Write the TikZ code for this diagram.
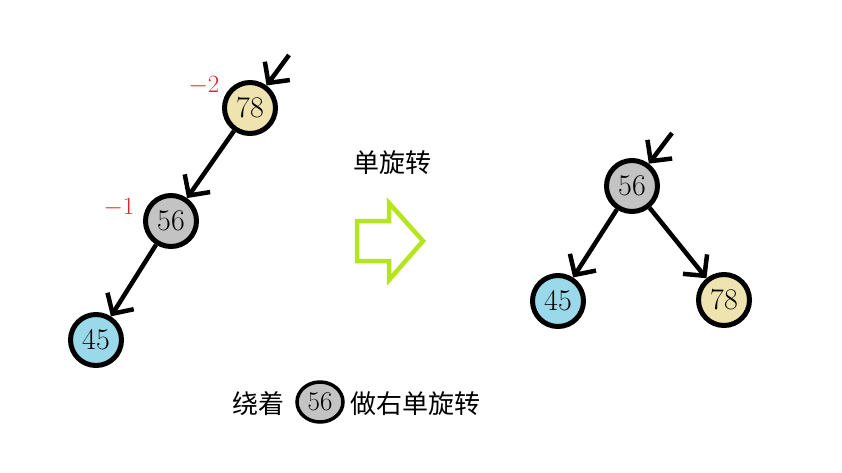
\documentclass[tikz,border=0pt]{standalone}
\usepackage{fontspec}
\newfontfamily\cjk{Noto Sans CJK SC}
\usetikzlibrary{arrows.meta,shapes.geometric}
\definecolor{cwheat}{HTML}{EFE4B0}
\definecolor{cgray}{HTML}{C3C3C3}
\definecolor{cblue}{HTML}{99D9EA}
\definecolor{cgreen}{HTML}{B5E61D}
\definecolor{cred}{HTML}{ED1C24}
\begin{document}
\begin{tikzpicture}[x=1pt,y=-1pt,
  nd/.style={circle,draw=black,line width=5pt,minimum size=51pt,inner sep=0pt,font=\fontsize{30}{30}\selectfont},
  edge/.style={line width=4.5pt,-{Straight Barb[length=15pt,width=31pt,line width=4.5pt]}},
  bal/.style={text=cred,font=\fontsize{28}{28}\selectfont},
  cn/.style={font=\cjk\fontsize{26}{26}\selectfont}]
\useasboundingbox (0,0) rectangle (842,472);
% left tree
\node[nd,fill=cwheat] (a78) at (250,108) {78};
\node[nd,fill=cgray] (a56) at (171,221) {56};
\node[nd,fill=cblue] (a45) at (96,340) {45};
\coordinate (ain) at (289,55);
\draw[edge] (ain) -- (a78);
\draw[edge] (a78) -- (a56);
\draw[edge] (a56) -- (a45);
\node[bal] (b2) at (204,86) {$-2$};
\node[bal] (b1) at (119,208) {$-1$};
% middle
\node[cn] (t1) at (392,163) {单旋转};
\draw[cgreen,line width=4.5pt,line join=miter] (357,221) -- (389,221) -- (389,203) -- (423,241) -- (389,280) -- (389,261) -- (357,261) -- cycle;
% right tree
\node[nd,fill=cgray] (r56) at (632,186) {56};
\node[nd,fill=cblue] (r45) at (558,301) {45};
\node[nd,fill=cwheat] (r78) at (724,300) {78};
\coordinate (rin) at (672,133);
\draw[edge] (rin) -- (r56);
\draw[edge] (r56) -- (r45);
\draw[edge] (r56) -- (r78);
% bottom caption
\node[cn,anchor=east] (c1) at (288,404) {绕着};
\node[ellipse,draw=black,line width=3.5pt,fill=cgray,minimum width=46pt,minimum height=40pt,inner sep=0pt,font=\fontsize{27}{27}\selectfont] (c2) at (320,402) {56};
\node[cn,anchor=west] (c3) at (347,404) {做右单旋转};
\end{tikzpicture}
\end{document}
